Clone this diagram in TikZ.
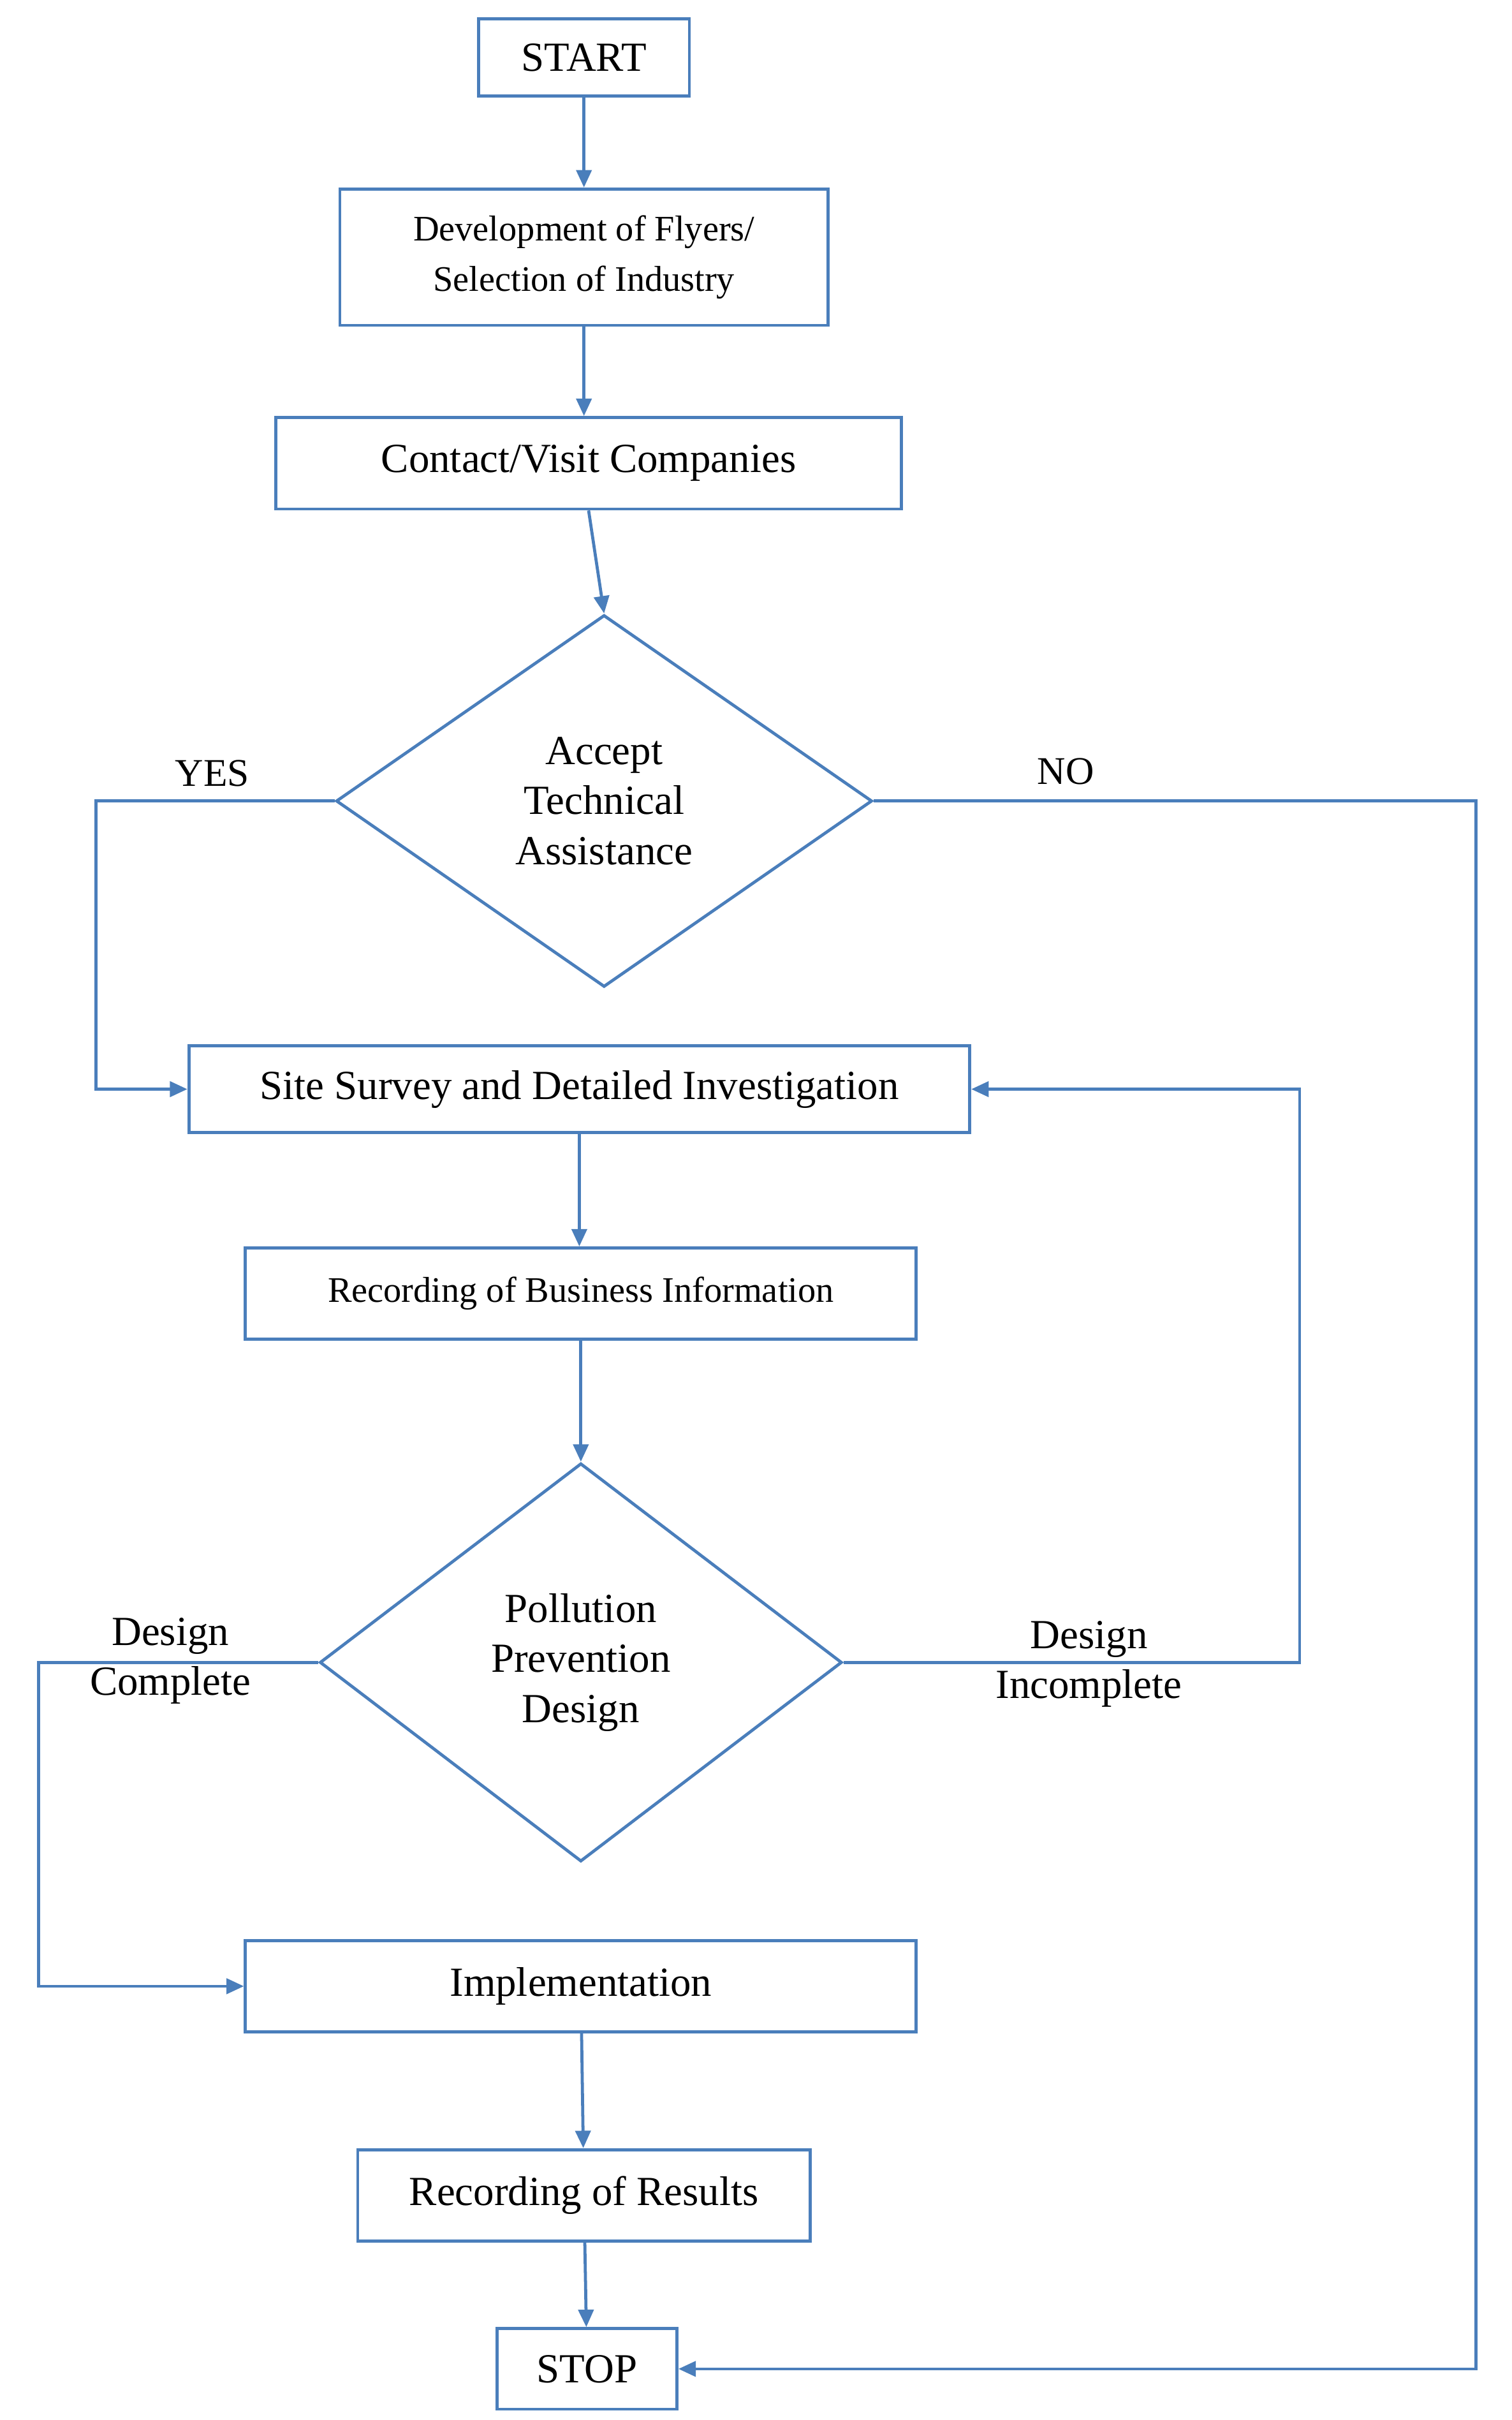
\documentclass[tikz,border=0pt]{standalone}
\usepackage{fontspec}
\setmainfont{Liberation Serif}
\usetikzlibrary{shapes.geometric,arrows.meta}
\definecolor{flowblue}{HTML}{4A7EBB}
\begin{document}
\begin{tikzpicture}[x=0.025cm,y=-0.025cm,
    box/.style={draw=flowblue,line width=1.4pt,align=center,font=\fontsize{19}{23}\selectfont,inner sep=0pt},
    choice/.style={diamond,draw=flowblue,line width=1.4pt,align=center,font=\fontsize{19}{23}\selectfont,inner sep=0pt},
    link/.style={draw=flowblue,line width=1.4pt,-{Triangle[length=8pt,width=7pt]}},
    lbl/.style={font=\fontsize{18}{22}\selectfont,align=center}]
  \useasboundingbox (0,0) rectangle (976,1562);

  % Boxes
  \node[box,minimum width=3.4cm,minimum height=1.25cm] (start) at (377,37) {START};
  \node[box,minimum width=7.875cm,minimum height=2.2cm,font=\fontsize{16.5}{23}\selectfont] (flyers) at (377,166) {Development of Flyers/\\Selection of Industry};
  \node[box,minimum width=10.1cm,minimum height=1.475cm] (contact) at (380,299) {Contact/Visit Companies};
  \node[choice,minimum width=8.65cm,minimum height=6cm] (accept) at (390,517) {Accept\\Technical\\Assistance};
  \node[box,minimum width=12.6cm,minimum height=1.4cm] (survey) at (374,703) {Site Survey and Detailed Investigation};
  \node[box,minimum width=10.825cm,minimum height=1.475cm,font=\fontsize{16.5}{20}\selectfont] (business) at (375,835) {Recording of Business Information};
  \node[choice,minimum width=8.425cm,minimum height=6.425cm] (design) at (375,1073) {Pollution\\Prevention\\Design};
  \node[box,minimum width=10.825cm,minimum height=1.475cm] (impl) at (375,1282) {Implementation};
  \node[box,minimum width=7.3cm,minimum height=1.475cm] (results) at (377,1417) {Recording of Results};
  \node[box,minimum width=2.9cm,minimum height=1.3cm] (stop) at (379,1529) {STOP};

  % Free corners
  \coordinate (yescorner) at (62,517);
  \coordinate (nocorner) at (953,517);
  \coordinate (incorner) at (839,1073);
  \coordinate (cocorner) at (25,1073);

  % Connectors
  \draw[link] (start) -- (flyers);
  \draw[link] (flyers) -- (flyers |- contact.north);
  \draw[link] (contact.south) -- (accept.north);
  \draw[link] (accept.west) -- (yescorner) |- (survey.west);
  \draw[link] (accept.east) -- (nocorner) |- (stop.east);
  \draw[link] (survey) -- (survey |- business.north);
  \draw[link] (business) -- (design);
  \draw[link] (design.east) -- (incorner) |- (survey.east);
  \draw[link] (design.west) -- (cocorner) |- (impl.west);
  \draw[link] (impl) -- (results);
  \draw[link] (results) -- (stop);

  % Labels
  \node[lbl] (yes) at (137,499) {YES};
  \node[lbl] (no) at (688,498) {NO};
  \node[lbl,font=\fontsize{19}{23}\selectfont] (complete) at (110,1072) {Design\\Complete};
  \node[lbl,font=\fontsize{19}{23}\selectfont] (incomplete) at (703,1074) {Design\\Incomplete};
\end{tikzpicture}
\end{document}
